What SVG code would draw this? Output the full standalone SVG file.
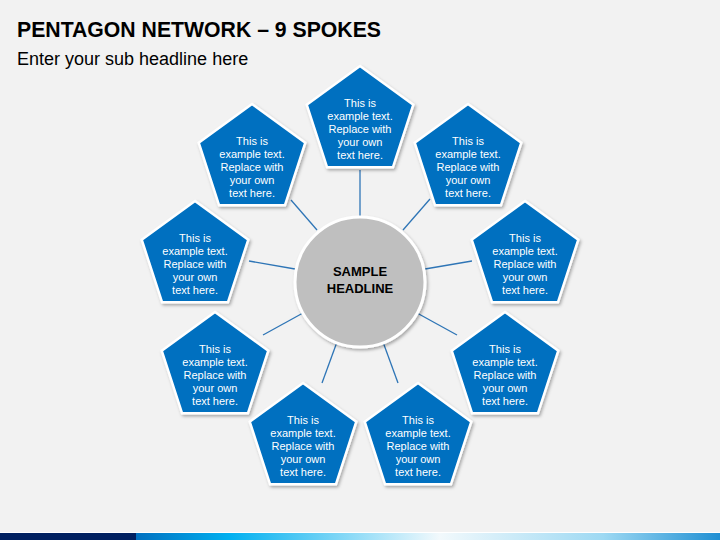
<svg xmlns="http://www.w3.org/2000/svg" xmlns:xlink="http://www.w3.org/1999/xlink" width="720" height="540" viewBox="0 0 720 540">
  <defs>
    <style>
      .title { font-family: "Liberation Sans", Arial, sans-serif; font-weight: bold; font-size: 22px; fill: #000000; }
      .sub { font-family: "Liberation Sans", Arial, sans-serif; font-size: 18px; fill: #000000; }
      .pt { font-family: "Liberation Sans", Arial, sans-serif; font-size: 11px; fill: #ffffff; text-anchor: middle; }
      .ct { font-family: "Liberation Sans", Arial, sans-serif; font-weight: bold; font-size: 13px; fill: #000000; text-anchor: middle; }
      .spoke { stroke: #2e75b6; stroke-width: 1.3; fill: none; }
      .pent { fill: #0070c0; stroke: #ffffff; stroke-width: 2.5; stroke-linejoin: miter; }
      .hub { fill: #bfbfbf; stroke: #ffffff; stroke-width: 3; }
    </style>
    <filter id="sh" x="-20%" y="-20%" width="150%" height="150%">
      <feDropShadow dx="1.5" dy="2" stdDeviation="1.5" flood-color="#000000" flood-opacity="0.3"/>
    </filter>
    <polygon id="pg" points="0,-56 53.3,-17.3 32.9,45.3 -32.9,45.3 -53.3,-17.3"/>
    <linearGradient id="bar" x1="0" y1="0" x2="1" y2="0">
      <stop offset="0" stop-color="#0070c0"/>
      <stop offset="0.16" stop-color="#00b0f0"/>
      <stop offset="0.52" stop-color="#f2f9fc"/>
      <stop offset="0.8" stop-color="#9dd9f3"/>
      <stop offset="1" stop-color="#1f8fd3"/>
    </linearGradient>
  </defs>

  <rect x="0" y="0" width="720" height="540" fill="#f2f2f2"/>

  <text class="title" x="17" y="37" textLength="364" lengthAdjust="spacingAndGlyphs">PENTAGON NETWORK – 9 SPOKES</text>
  <text class="sub" x="17" y="65">Enter your sub headline here</text>

  <g id="connectors">
    <line class="spoke" x1="360" y1="170" x2="360" y2="217"/>
    <line class="spoke" x1="291" y1="200" x2="317" y2="230"/>
    <line class="spoke" x1="430" y1="199" x2="403" y2="230"/>
    <line class="spoke" x1="249" y1="261" x2="295" y2="269"/>
    <line class="spoke" x1="472" y1="261" x2="425" y2="269"/>
    <line class="spoke" x1="263" y1="335" x2="303" y2="313"/>
    <line class="spoke" x1="457" y1="335" x2="417" y2="313"/>
    <line class="spoke" x1="322" y1="383" x2="337" y2="342"/>
    <line class="spoke" x1="398" y1="383" x2="383" y2="342"/>
  </g>

  <g id="hub">
    <circle class="hub" cx="360" cy="282" r="65" filter="url(#sh)"/>
    <text class="ct" x="360" y="276">SAMPLE</text>
    <text class="ct" x="360" y="293">HEADLINE</text>
  </g>

  <g id="node-top" transform="translate(360,122)">
    <use xlink:href="#pg" href="#pg" class="pent" filter="url(#sh)"/>
    <text class="pt"><tspan x="0" y="-15">This is</tspan><tspan x="0" y="-2">example text.</tspan><tspan x="0" y="11">Replace with</tspan><tspan x="0" y="24">your own</tspan><tspan x="0" y="37">text here.</tspan></text>
  </g>
  <g id="node-upper-left" transform="translate(252,160)">
    <use xlink:href="#pg" href="#pg" class="pent" filter="url(#sh)"/>
    <text class="pt"><tspan x="0" y="-15">This is</tspan><tspan x="0" y="-2">example text.</tspan><tspan x="0" y="11">Replace with</tspan><tspan x="0" y="24">your own</tspan><tspan x="0" y="37">text here.</tspan></text>
  </g>
  <g id="node-upper-right" transform="translate(468,160)">
    <use xlink:href="#pg" href="#pg" class="pent" filter="url(#sh)"/>
    <text class="pt"><tspan x="0" y="-15">This is</tspan><tspan x="0" y="-2">example text.</tspan><tspan x="0" y="11">Replace with</tspan><tspan x="0" y="24">your own</tspan><tspan x="0" y="37">text here.</tspan></text>
  </g>
  <g id="node-left" transform="translate(195,257)">
    <use xlink:href="#pg" href="#pg" class="pent" filter="url(#sh)"/>
    <text class="pt"><tspan x="0" y="-15">This is</tspan><tspan x="0" y="-2">example text.</tspan><tspan x="0" y="11">Replace with</tspan><tspan x="0" y="24">your own</tspan><tspan x="0" y="37">text here.</tspan></text>
  </g>
  <g id="node-right" transform="translate(525,257)">
    <use xlink:href="#pg" href="#pg" class="pent" filter="url(#sh)"/>
    <text class="pt"><tspan x="0" y="-15">This is</tspan><tspan x="0" y="-2">example text.</tspan><tspan x="0" y="11">Replace with</tspan><tspan x="0" y="24">your own</tspan><tspan x="0" y="37">text here.</tspan></text>
  </g>
  <g id="node-lower-left" transform="translate(215,368)">
    <use xlink:href="#pg" href="#pg" class="pent" filter="url(#sh)"/>
    <text class="pt"><tspan x="0" y="-15">This is</tspan><tspan x="0" y="-2">example text.</tspan><tspan x="0" y="11">Replace with</tspan><tspan x="0" y="24">your own</tspan><tspan x="0" y="37">text here.</tspan></text>
  </g>
  <g id="node-lower-right" transform="translate(505,368)">
    <use xlink:href="#pg" href="#pg" class="pent" filter="url(#sh)"/>
    <text class="pt"><tspan x="0" y="-15">This is</tspan><tspan x="0" y="-2">example text.</tspan><tspan x="0" y="11">Replace with</tspan><tspan x="0" y="24">your own</tspan><tspan x="0" y="37">text here.</tspan></text>
  </g>
  <g id="node-bottom-left" transform="translate(303,439)">
    <use xlink:href="#pg" href="#pg" class="pent" filter="url(#sh)"/>
    <text class="pt"><tspan x="0" y="-15">This is</tspan><tspan x="0" y="-2">example text.</tspan><tspan x="0" y="11">Replace with</tspan><tspan x="0" y="24">your own</tspan><tspan x="0" y="37">text here.</tspan></text>
  </g>
  <g id="node-bottom-right" transform="translate(418,439)">
    <use xlink:href="#pg" href="#pg" class="pent" filter="url(#sh)"/>
    <text class="pt"><tspan x="0" y="-15">This is</tspan><tspan x="0" y="-2">example text.</tspan><tspan x="0" y="11">Replace with</tspan><tspan x="0" y="24">your own</tspan><tspan x="0" y="37">text here.</tspan></text>
  </g>

  <g id="footer-bar">
    <rect x="0" y="532" width="720" height="1" fill="#ffffff"/>
    <rect x="0" y="533" width="136" height="7" fill="#002060"/>
    <rect x="136" y="533" width="584" height="7" fill="url(#bar)"/>
  </g>
</svg>
